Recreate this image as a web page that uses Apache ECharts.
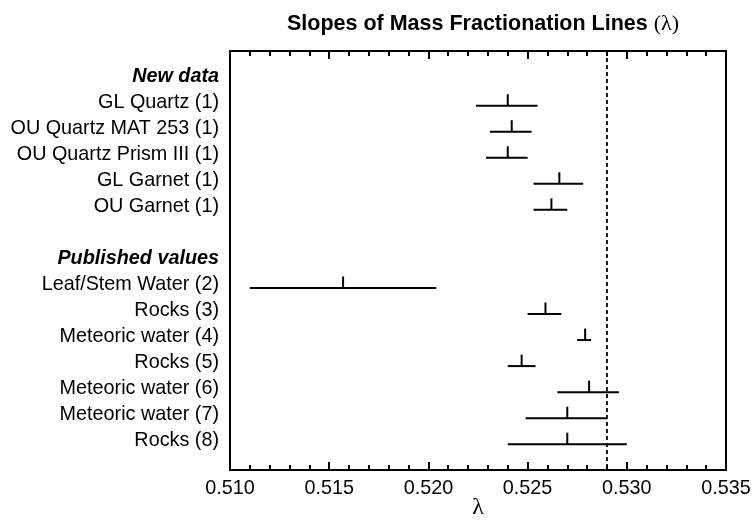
<!DOCTYPE html>
<html>
<head>
<meta charset="utf-8">
<script src="https://cdn.jsdelivr.net/npm/echarts@6/dist/echarts.min.js"></script>
<style>html,body{margin:0;padding:0;background:#fff;}#main{width:752px;height:524px;}</style>
</head>
<body>
<div id="main"></div>
<script>
// Row labels, top to bottom (index = row position)
const rowLabels = [
  'New data',
  'GL Quartz (1)',
  'OU Quartz MAT 253 (1)',
  'OU Quartz Prism III (1)',
  'GL Garnet (1)',
  'OU Garnet (1)',
  '',
  'Published values',
  'Leaf/Stem Water (2)',
  'Rocks (3)',
  'Meteoric water (4)',
  'Rocks (5)',
  'Meteoric water (6)',
  'Meteoric water (7)',
  'Rocks (8)'
];
const headerRows = [0, 7];

// Data rows (row index, central lambda, low, high)
const dataRows = [1, 2, 3, 4, 5, 8, 9, 10, 11, 12, 13, 14];
const lambdaCenter = [0.5240, 0.5242, 0.5240, 0.5266, 0.5262, 0.5157, 0.5259, 0.5279, 0.5247, 0.5281, 0.5270, 0.5270];
const lambdaLow    = [0.5224, 0.5231, 0.5229, 0.5253, 0.5253, 0.5110, 0.5250, 0.5275, 0.5240, 0.5265, 0.5249, 0.5240];
const lambdaHigh   = [0.5255, 0.5252, 0.5250, 0.5278, 0.5270, 0.5204, 0.5267, 0.5282, 0.5254, 0.5296, 0.5290, 0.5300];

const referenceLambda = 0.529;
const xTicks = [0.510, 0.515, 0.520, 0.525, 0.530, 0.535];
const yMin = -1.1, yMax = 14.99;

const seriesData = dataRows.map((r, i) => [lambdaLow[i], lambdaHigh[i], lambdaCenter[i], r]);

const chart = echarts.init(document.getElementById('main'), null, {renderer: 'canvas'});
const FONT = 'Liberation Sans, Arial, Helvetica, sans-serif';
const SERIF = 'Liberation Serif, Times New Roman, serif';

const xAxisBase = {
  type: 'value',
  min: xTicks[0],
  max: xTicks[xTicks.length - 1],
  interval: 0.005,
  splitLine: {show: false},
  axisLine: {show: true, onZero: false, lineStyle: {color: '#000', width: 2}},
  axisTick: {show: true, inside: true, length: 8, lineStyle: {color: '#000', width: 2}},
  minorTick: {show: true, splitNumber: 5, length: 5, lineStyle: {color: '#000', width: 2}},
  minorSplitLine: {show: false}
};

const option = {
  backgroundColor: '#fff',
  animation: false,
  title: {
    text: 'Slopes of Mass Fractionation Lines {l|(λ)}',
    left: 478,
    textAlign: 'center',
    top: 8,
    textStyle: {
      fontFamily: FONT, fontWeight: 'bold', fontSize: 21.5, color: '#000',
      rich: {l: {fontFamily: SERIF, fontWeight: 'normal', fontSize: 22, color: '#000'}}
    }
  },
  grid: {left: 230, right: 26, top: 51, bottom: 54, show: true, borderColor: '#000', borderWidth: 2,
         containLabel: false, outerBoundsMode: 'none'},
  xAxis: [
    Object.assign({}, xAxisBase, {
      position: 'bottom',
      name: 'λ',
      nameLocation: 'middle',
      nameGap: 26,
      nameMoveOverlap: false,
      nameTextStyle: {fontFamily: SERIF, fontSize: 24, color: '#000', verticalAlign: 'top'},
      axisLabel: {show: true, margin: 9, fontFamily: FONT, fontSize: 19.8, color: '#000',
        formatter: v => v.toFixed(3)}
    }),
    Object.assign({}, xAxisBase, {
      position: 'top',
      axisLabel: {show: false}
    })
  ],
  yAxis: {
    type: 'value',
    inverse: true,
    min: yMin,
    max: yMax,
    splitLine: {show: false},
    axisLine: {show: true, onZero: false, lineStyle: {color: '#000', width: 2}},
    axisTick: {show: false},
    axisLabel: {
      show: true,
      customValues: rowLabels.map((_, i) => i - 0.13),
      margin: 11,
      fontFamily: FONT,
      fontSize: 19.8,
      color: '#000',
      formatter: function (v) {
        const i = Math.round(v);
        const t = rowLabels[i] || '';
        if (headerRows.indexOf(i) >= 0) return '{h|' + t + '}';
        return t;
      },
      rich: {h: {fontFamily: FONT, fontSize: 19.8, fontWeight: 'bold', fontStyle: 'italic', color: '#000'}}
    }
  },
  series: [
    {
      type: 'line',
      xAxisIndex: 0,
      yAxisIndex: 0,
      data: [[referenceLambda, yMin], [referenceLambda, yMax]],
      symbol: 'none',
      silent: true,
      lineStyle: {color: '#000', type: [4, 3], width: 1.8},
      z: 2
    },
    {
      type: 'custom',
      xAxisIndex: 0,
      yAxisIndex: 0,
      data: seriesData,
      encode: {x: [0, 1, 2], y: 3},
      renderItem: function (params, api) {
        const y = api.value(3);
        const p1 = api.coord([api.value(0), y]);
        const p2 = api.coord([api.value(1), y]);
        const pc = api.coord([api.value(2), y]);
        const style = {stroke: '#000', lineWidth: 2};
        return {
          type: 'group',
          children: [
            {type: 'line', shape: {x1: p1[0], y1: p1[1], x2: p2[0], y2: p2[1]}, style: style},
            {type: 'line', shape: {x1: pc[0], y1: pc[1], x2: pc[0], y2: pc[1] - 11.5}, style: style}
          ]
        };
      },
      z: 3
    }
  ]
};

chart.setOption(option);
</script>
</body>
</html>
